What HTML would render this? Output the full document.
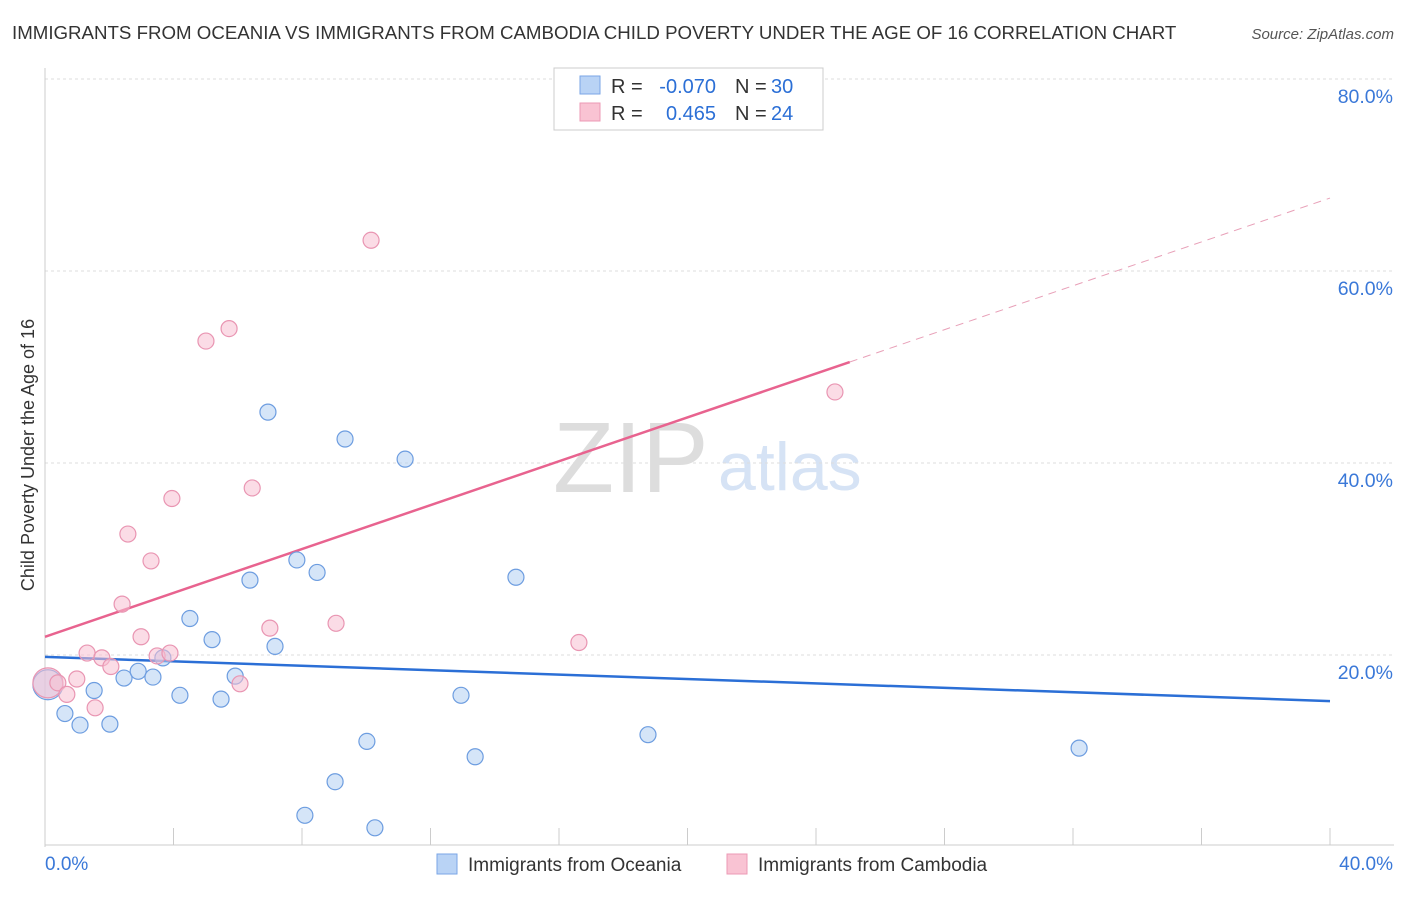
<!DOCTYPE html>
<html><head><meta charset="utf-8"><style>
body{margin:0;background:#fff;font-family:"Liberation Sans",sans-serif}
svg text{font-family:"Liberation Sans",sans-serif}
</style></head><body>
<svg id="c" width="1406" height="892">
<text x="12" y="39" font-size="18.7" fill="#333">IMMIGRANTS FROM OCEANIA VS IMMIGRANTS FROM CAMBODIA CHILD POVERTY UNDER THE AGE OF 16 CORRELATION CHART</text>
<text x="1394" y="39" font-size="15" fill="#555" text-anchor="end" font-style="italic">Source: ZipAtlas.com</text>
<text x="34" y="455" font-size="18" fill="#333" text-anchor="middle" transform="rotate(-90 34 455)">Child Poverty Under the Age of 16</text>
<text x="553" y="492" font-size="100" fill="#ddd" font-family="Liberation Serif">ZIP</text>
<text x="718" y="490" font-size="68" fill="#d6e3f5">atlas</text>
<g id="grid"></g><g id="lines"></g><g id="pts"></g>
<g>
<rect x="554" y="68" width="269" height="62" fill="#fff" stroke="#ccc"/>
<rect x="580" y="76" width="20" height="18" fill="#b9d3f5" stroke="#7aa6e6"/>
<rect x="580" y="103" width="20" height="18" fill="#f9c3d3" stroke="#ec9ab5"/>
<text x="611" y="93" font-size="20" fill="#333">R =</text>
<text x="716" y="93" font-size="20" fill="#2b6fd6" text-anchor="end">-0.070</text>
<text x="735" y="93" font-size="20" fill="#333">N =</text>
<text x="771" y="93" font-size="20" fill="#2b6fd6">30</text>
<text x="611" y="120" font-size="20" fill="#333">R =</text>
<text x="716" y="120" font-size="20" fill="#2b6fd6" text-anchor="end">0.465</text>
<text x="735" y="120" font-size="20" fill="#333">N =</text>
<text x="771" y="120" font-size="20" fill="#2b6fd6">24</text>
</g>
<g>
<rect x="437" y="854" width="20" height="20" fill="#b9d3f5" stroke="#7aa6e6"/>
<text x="468" y="871" font-size="19" fill="#333">Immigrants from Oceania</text>
<rect x="727" y="854" width="20" height="20" fill="#f9c3d3" stroke="#ec9ab5"/>
<text x="758" y="871" font-size="19" fill="#333">Immigrants from Cambodia</text>
</g>
</svg>
<script>
const yTicks=[20,40,60,80];
const yTickLabels=["20.0%","40.0%","60.0%","80.0%"];
const xTickVals=[0,4,8,12,16,20,24,28,32,36,40];
const blueX=[0.09,0.62,1.09,1.53,2.02,2.46,2.90,3.36,3.67,4.20,4.51,5.20,5.48,5.92,6.38,6.94,7.16,7.84,8.47,9.03,9.34,10.02,8.09,10.27,11.21,12.95,13.39,14.66,18.77,32.19];
const blueY=[16.9,13.9,12.7,16.3,12.8,17.6,18.3,17.7,19.7,15.8,23.8,21.6,15.4,17.8,27.8,45.3,20.9,29.9,28.6,6.8,42.5,11.0,3.3,2.0,40.4,15.8,9.4,28.1,11.7,10.3];
const pinkX=[0.09,0.40,0.68,0.99,1.31,1.56,1.77,2.05,2.40,2.58,2.99,3.30,3.49,3.89,3.95,5.01,5.73,6.07,6.45,7.00,9.06,10.15,16.62,24.59];
const pinkY=[17.1,17.1,15.9,17.5,20.2,14.5,19.7,18.8,25.3,32.6,21.9,29.8,19.9,20.2,36.3,52.7,54.0,17.0,37.4,22.8,23.3,63.2,21.3,47.4];
const blueLine=[19.8,15.2];
const pinkLine=[21.9,67.6];
const pinkSolidEnd=25.05;
const X=v=>45+v/40*1285, Y=v=>847-v/20*192;
const NS="http://www.w3.org/2000/svg";
function mk(p,t,a){const e=document.createElementNS(NS,t);for(const k in a)e.setAttribute(k,a[k]);p.appendChild(e);return e;}
const g=document.getElementById('grid');
yTicks.forEach((t,i)=>{
 const l=mk(g,'line',{x1:45,x2:1394,y1:Y(t),y2:Y(t),stroke:'#ddd','stroke-dasharray':'3,3'});
 
 
 const tx=mk(g,'text',{x:1393,y:Y(t)+24,'font-size':19.5,fill:'#3a78d8','text-anchor':'end'});tx.textContent=yTickLabels[i];
 
 
});
const ax=mk(g,'line',{x1:45,x2:45,y1:68,y2:847,stroke:'#ccc'});


const bx=mk(g,'line',{x1:45,x2:1394,y1:845,y2:845,stroke:'#ccc'});


xTickVals.forEach(v=>{const t=mk(g,'line',{x1:X(v),x2:X(v),y1:828,y2:845,stroke:'#ccc'});
 
 });
const x0=mk(g,'text',{x:45,y:870,'font-size':19,fill:'#3a78d8'});x0.textContent='0.0%';


const x1=mk(g,'text',{x:1393,y:870,'font-size':19,fill:'#3a78d8','text-anchor':'end'});x1.textContent='40.0%';


const L=document.getElementById('lines');
const pf=x=>pinkLine[0]+(pinkLine[1]-pinkLine[0])*x/40;
const bl=mk(L,'line',{x1:X(0),y1:Y(blueLine[0]),x2:X(40),y2:Y(blueLine[1]),stroke:'#2b6fd6','stroke-width':2.5});


const pl=mk(L,'line',{x1:X(0),y1:Y(pf(0)),x2:X(pinkSolidEnd),y2:Y(pf(pinkSolidEnd)),stroke:'#e8638f','stroke-width':2.5});


const pd=mk(L,'line',{x1:X(pinkSolidEnd),y1:Y(pf(pinkSolidEnd)),x2:X(40),y2:Y(pf(40)),stroke:'#e8a0b8','stroke-width':1,'stroke-dasharray':'8,6'});


const P=document.getElementById('pts');
function dots(xs,ys,fill,stroke,name){xs.forEach((x,i)=>{
 const c=mk(P,'circle',{cx:X(x),cy:Y(ys[i]),r:i==0?15:8,fill:fill,'fill-opacity':0.55,stroke:stroke,'stroke-width':1.2});
 
 
});}
dots(blueX,blueY,'#b3cff3','#6d9de0','oceania-point');
dots(pinkX,pinkY,'#f8bfd1','#e995b2','cambodia-point');
</script>
</body></html>
